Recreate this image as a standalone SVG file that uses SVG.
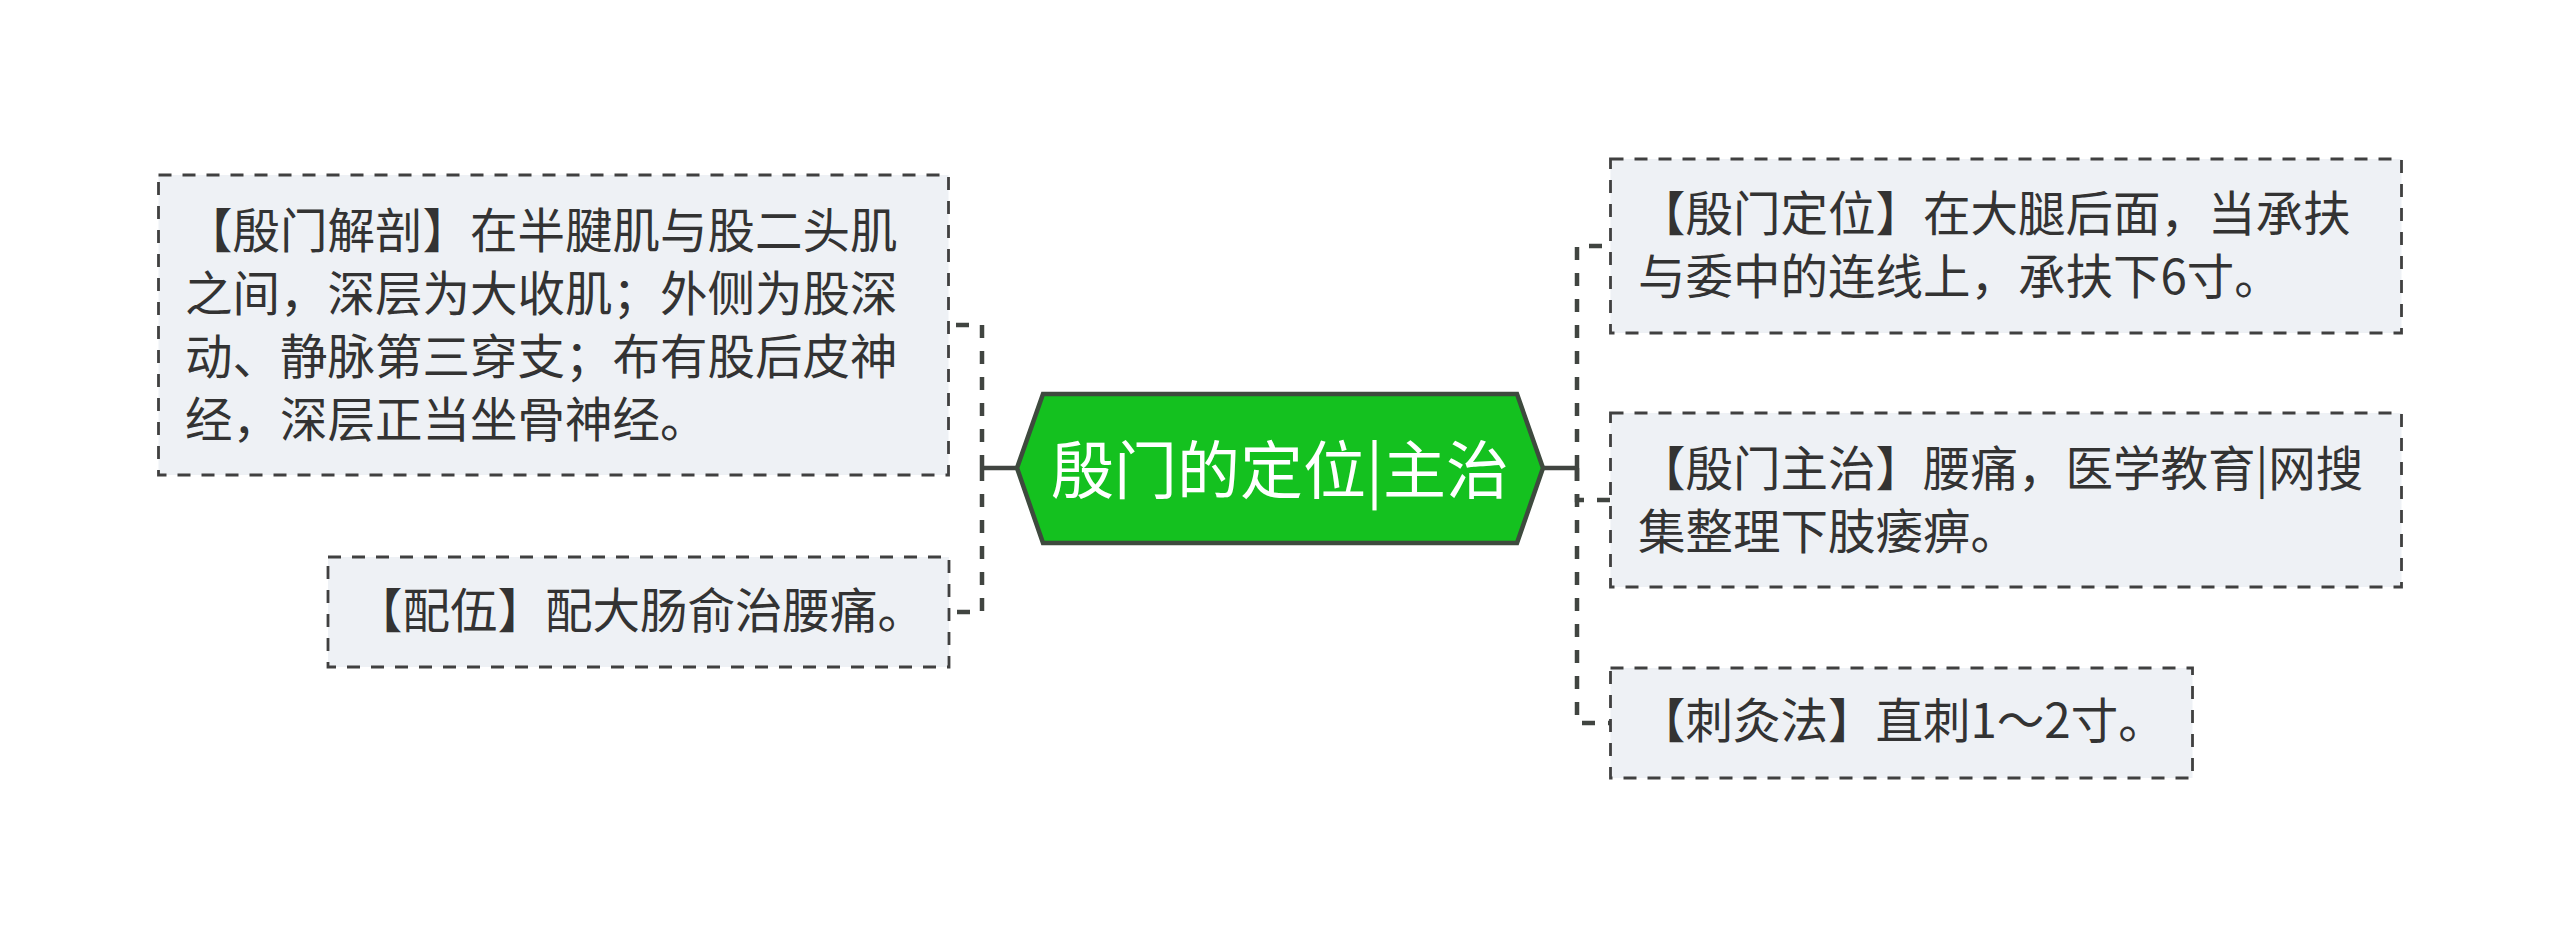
<svg xmlns="http://www.w3.org/2000/svg" width="2560" height="938" viewBox="0 0 2560 938">
<style>
.box{fill:#eef1f5;stroke:#404040;stroke-width:2.8;stroke-dasharray:13 11}
.t{font-family:"Noto Sans CJK SC","Noto Sans",sans-serif;font-size:47.5px;fill:#333}
.ct{font-family:"Noto Sans CJK SC","Noto Sans",sans-serif;font-size:63px;fill:#fff}
.solid{fill:none;stroke:#414541;stroke-width:4.5}
.dash{fill:none;stroke:#414541;stroke-width:4.5;stroke-dasharray:13 13}
</style>
<rect width="2560" height="938" fill="#fff"/>
<g id="connectors">
<path class="solid" d="M1017,468 H982"/>
<path class="dash" d="M982,468 V325 H949"/>
<path class="dash" d="M982,468 V612 H949"/>
<path class="solid" d="M1543,468 H1577"/>
<path class="dash" d="M1577,468 V246 H1610"/>
<path class="dash" d="M1577,468 V500 H1610"/>
<path class="dash" d="M1577,468 V723 H1610"/>
</g>
<g id="center">
<polygon points="1017,468 1043,394 1517,394 1543,468 1517,543 1043,543" fill="#14c11f" stroke="#3e4a3e" stroke-width="4.5"/>
<text class="ct" x="1280" y="493" text-anchor="middle">殷门的定位|主治</text>
</g>
<g id="left1">
<rect class="box" x="158.5" y="175" width="790" height="300"/>
<text class="t"><tspan x="185" y="248">【殷门解剖】在半腱肌与股二头肌</tspan><tspan x="185" y="311">之间，深层为大收肌；外侧为股深</tspan><tspan x="185" y="374">动、静脉第三穿支；布有股后皮神</tspan><tspan x="185" y="437">经，深层正当坐骨神经。</tspan></text>
</g>
<g id="left2">
<rect class="box" x="328" y="557" width="621" height="110"/>
<text class="t" x="355" y="628">【配伍】配大肠俞治腰痛。</text>
</g>
<g id="right1">
<rect class="box" x="1610.5" y="159" width="791" height="174"/>
<text class="t"><tspan x="1638" y="231">【殷门定位】在大腿后面，当承扶</tspan><tspan x="1638" y="294">与委中的连线上，承扶下6寸。</tspan></text>
</g>
<g id="right2">
<rect class="box" x="1610.5" y="413" width="791" height="174"/>
<text class="t"><tspan x="1638" y="486">【殷门主治】腰痛，医学教育|网搜</tspan><tspan x="1638" y="549">集整理下肢痿痹。</tspan></text>
</g>
<g id="right3">
<rect class="box" x="1610.5" y="668" width="582" height="110"/>
<text class="t" x="1638" y="738">【刺灸法】直刺1～2寸。</text>
</g>
</svg>
